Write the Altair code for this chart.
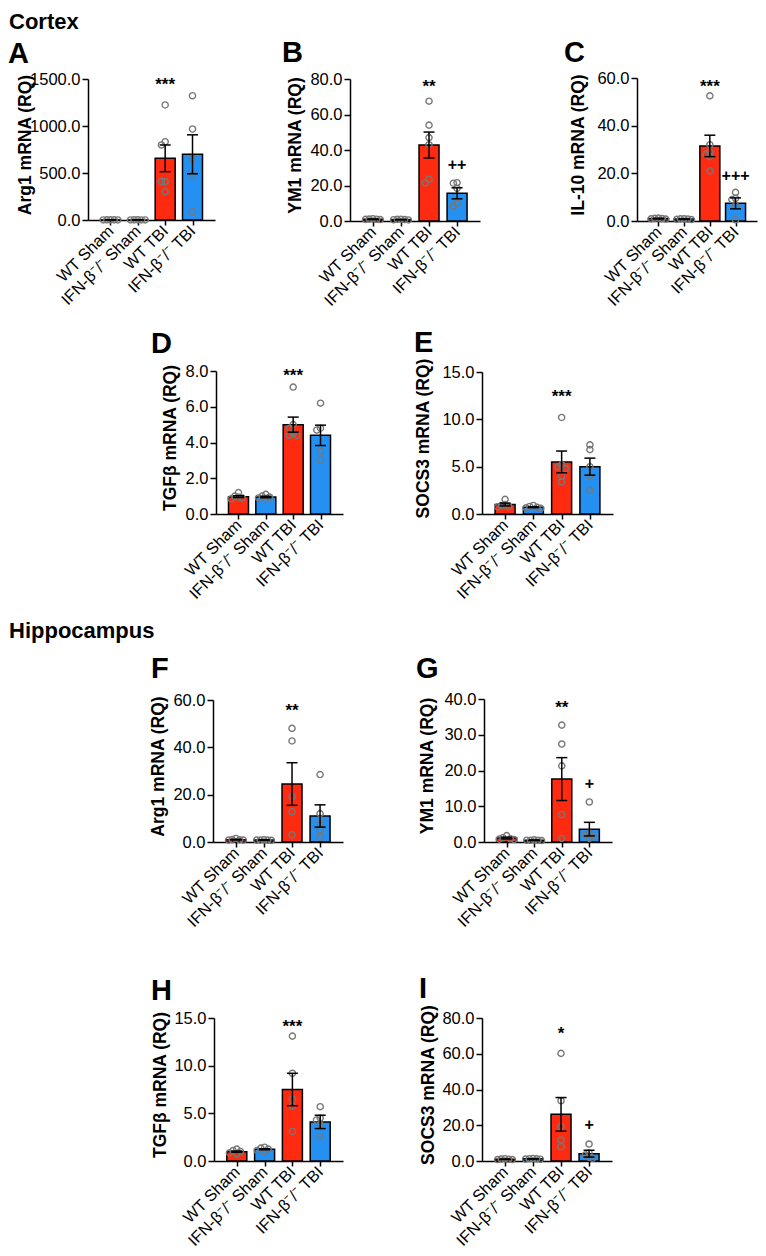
import altair as alt
import pandas as pd

# ---------------- data ----------------
groups = ["WT Sham", "IFN-β⁻/⁻ Sham", "WT TBI", "IFN-β⁻/⁻ TBI"]
genotype = ["WT", "IFN", "WT", "IFN"]

panel_letters = ["A", "B", "C", "D", "E", "F", "G", "H", "I"]
y_titles = ["Arg1 mRNA (RQ)", "YM1 mRNA (RQ)", "IL-10 mRNA (RQ)",
            "TGFβ mRNA (RQ)", "SOCS3 mRNA (RQ)",
            "Arg1 mRNA (RQ)", "YM1 mRNA (RQ)",
            "TGFβ mRNA (RQ)", "SOCS3 mRNA (RQ)"]
y_max = [1500, 80, 60, 8, 15, 60, 40, 15, 80]
y_ticks = [[0, 500, 1000, 1500], [0, 20, 40, 60, 80], [0, 20, 40, 60],
           [0, 2, 4, 6, 8], [0, 5, 10, 15], [0, 20, 40, 60],
           [0, 10, 20, 30, 40], [0, 5, 10, 15], [0, 20, 40, 60, 80]]

# Cortex
A_mean = [1.0, 0.9, 656, 699]
A_sem = [0.1, 0.1, 142, 207]
A_pts = [[1.2, 1.0, 0.9, 0.8, 1.1], [0.9, 1.0, 0.8, 0.9, 1.0],
         [1224, 833, 798, 408, 408, 301], [1322, 968, 656, 479, 88]]
A_sig = [(2, "***", 1490)]

B_mean = [1.0, 0.8, 42.8, 15.6]
B_sem = [0.15, 0.1, 7.3, 3.1]
B_pts = [[1.3, 1.1, 0.9, 0.8, 1.0], [1.0, 0.8, 0.6, 0.7, 0.9],
         [67.5, 54, 47, 43, 21.5, 23.5], [21.6, 21.3, 18.4, 10, 8.4]]
B_sig = [(2, "**", 78.3), (3, "++", 31.5)]

C_mean = [1.0, 0.8, 31.5, 7.4]
C_sem = [0.15, 0.1, 4.5, 2.3]
C_pts = [[1.2, 1.0, 0.9, 0.8, 1.1], [0.9, 0.8, 0.7, 0.9, 0.6],
         [52.5, 32, 29, 28, 27, 21], [12, 9.5, 9, 6.5, 0.5]]
C_sig = [(2, "***", 58.3), (3, "+++", 18.9)]

D_mean = [0.97, 0.95, 5.0, 4.4]
D_sem = [0.05, 0.04, 0.42, 0.57]
D_pts = [[1.2, 1.0, 0.95, 0.9, 0.85], [1.1, 1.0, 0.95, 0.9, 0.85],
         [7.1, 5.0, 4.8, 4.5, 4.4, 4.4], [6.2, 4.8, 4.7, 3.5, 3.0]]
D_sig = [(2, "***", 8.0)]

E_mean = [1.0, 0.72, 5.5, 5.0]
E_sem = [0.15, 0.05, 1.15, 0.9]
E_pts = [[1.55, 1.0, 0.9, 0.8, 0.75], [0.9, 0.8, 0.7, 0.65, 0.6],
         [10.2, 5.2, 5.0, 4.8, 4.0, 3.4], [7.3, 6.8, 5.0, 4.0, 2.5]]
E_sig = [(2, "***", 12.9)]

# Hippocampus
F_mean = [1.0, 0.8, 24.5, 11.0]
F_sem = [0.15, 0.1, 9.0, 4.7]
F_pts = [[1.5, 1.0, 0.9, 0.8, 0.8], [0.9, 0.8, 0.8, 0.7, 0.8],
         [48, 42.7, 19.1, 12.8, 3.0], [28.5, 12, 8, 5, 2]]
F_sig = [(2, "**", 57.5)]

G_mean = [1.1, 0.5, 17.6, 3.6]
G_sem = [0.25, 0.07, 6.0, 1.9]
G_pts = [[1.8, 1.2, 0.9, 0.8, 0.7], [0.6, 0.5, 0.5, 0.4, 0.5],
         [32.7, 27.4, 21.3, 7.7, 1.0], [11.2, 2.5, 2.0, 1.5, 1.0]]
G_sig = [(2, "**", 38.9), (3, "+", 16.2)]

H_mean = [0.98, 1.23, 7.5, 4.1]
H_sem = [0.07, 0.06, 1.7, 0.7]
H_pts = [[1.25, 1.1, 1.0, 0.85, 0.75], [1.45, 1.35, 1.25, 1.1, 1.0],
         [13.1, 9.2, 6.5, 5.8, 3.1], [5.7, 4.5, 4.3, 3.8, 2.6]]
H_sig = [(2, "***", 14.6)]

I_mean = [1.0, 1.2, 26.1, 4.1]
I_sem = [0.1, 0.1, 9.4, 1.9]
I_pts = [[1.3, 1.1, 1.0, 0.8, 0.8], [1.4, 1.3, 1.2, 1.0, 1.1],
         [60.2, 33.7, 19.2, 11.7, 8.0], [9.5, 4.5, 3.4, 2.0, 1.5]]
I_sig = [(2, "*", 73.8), (3, "+", 20.1)]

means = [A_mean, B_mean, C_mean, D_mean, E_mean, F_mean, G_mean, H_mean, I_mean]
sems = [A_sem, B_sem, C_sem, D_sem, E_sem, F_sem, G_sem, H_sem, I_sem]
points = [A_pts, B_pts, C_pts, D_pts, E_pts, F_pts, G_pts, H_pts, I_pts]
sigs = [A_sig, B_sig, C_sig, D_sig, E_sig, F_sig, G_sig, H_sig, I_sig]

# ---------------- layout / style ----------------
FONT = "Liberation Sans"
RED = "#FF2B10"
BLUE = "#2491F2"
GRAY = "#777777"
M = 8                      # page margin
W_VIEW, H_VIEW = 750, 1240

# plot boxes in page pixels: x axis start, x axis end, y top, y zero
boxes = [(88, 215, 79, 220), (350, 480, 79, 221), (637, 757, 78, 221),
         (216, 343, 371, 514), (482, 613, 372, 514),
         (213, 343, 700, 842), (484, 612, 699, 842),
         (214, 343, 1018, 1161), (482, 612, 1018, 1161)]
title_dx = [-57.5, -50, -53.5, -41, -54, -50, -52, -49, -49]
letter_pos = [(2, 63), (284, 62), (566, 62), (153, 353), (416, 352),
              (153, 678), (418, 678), (153, 1000), (421, 998)]

U_LO, U_HI = -0.64, 3.64
label_expr = "[" + ",".join("'" + g + "'" for g in groups) + "][datum.value]"


def swarm(vals, px_per_unit, s=4.0):
    ys = [v * px_per_unit for v in vals]
    order = sorted(range(len(vals)), key=lambda i: -vals[i])
    cands = [0.0]
    for m in range(1, 30):
        cands += [-m * s, m * s]
    placed, offs = [], [0.0] * len(vals)
    for i in order:
        for c in cands:
            if all((c - ox) ** 2 + (ys[i] - oy) ** 2 >= (s - 0.01) ** 2 for ox, oy in placed):
                offs[i] = c
                placed.append((c, ys[i]))
                break
    return offs


def build_panel(k):
    x0, x1, yt, yz = [v - M for v in boxes[k]]
    step = (x1 - x0) / (U_HI - U_LO)
    pxu = (yz - yt) / y_max[k]
    xscale = alt.Scale(domain=[U_LO, U_HI], range=[x0, x1], nice=False, zero=False)
    yscale = alt.Scale(domain=[0, y_max[k]], range=[yz, yt], nice=False, zero=False)
    xaxis = alt.Axis(orient="bottom", offset=yz - H_VIEW, values=[0, 1, 2, 3],
                     labelExpr=label_expr, title=None, labelAngle=-45,
                     labelAlign="right", labelBaseline="middle", labelPadding=3,
                     labelFontSize=16.3,
                     tickSize=5, labelOverlap=False, labelFlush=False,
                     labelBound=False, grid=False)
    yaxis = alt.Axis(orient="left", offset=-x0, values=y_ticks[k], format=".1f",
                     title=y_titles[k], titleX=title_dx[k], titleY=(yt + yz) / 2 - 5,
                     titleAngle=-90, titleBaseline="alphabetic", titleAlign="center",
                     tickSize=6, labelPadding=2, labelOverlap=False,
                     labelFlush=False, labelBound=False, grid=False)

    def X(f):
        return alt.X(f + ":Q", scale=xscale, axis=xaxis)

    def Y(f):
        return alt.Y(f + ":Q", scale=yscale, axis=yaxis)

    mean, sem = means[k], sems[k]
    bdf = pd.DataFrame({"u": [0, 1, 2, 3], "mean": mean, "zero": [0] * 4,
                        "lo": [m - s for m, s in zip(mean, sem)],
                        "hi": [m + s for m, s in zip(mean, sem)],
                        "geno": genotype})
    rows = []
    for g, vals in enumerate(points[k]):
        offs = swarm(vals, pxu)
        for v, o in zip(vals, offs):
            rows.append({"ux": g + o / step, "val": v})
    pdf = pd.DataFrame(rows)
    cdf = pd.DataFrame({"u": [0, 1, 2, 3] * 2, "cap": list(bdf["lo"]) + list(bdf["hi"])})

    bars = alt.Chart(bdf).mark_bar(size=20, stroke="black", strokeWidth=1.5).encode(
        x=X("u"), y=Y("mean"), y2="zero:Q",
        color=alt.Color("geno:N", scale=alt.Scale(domain=["WT", "IFN"], range=[RED, BLUE]),
                        legend=None))
    pts = alt.Chart(pdf).mark_point(filled=False, size=38, strokeWidth=1.4, color=GRAY,
                                    opacity=1).encode(x=X("ux"), y=Y("val"))
    rule = alt.Chart(bdf).mark_rule(color="black", strokeWidth=1.5).encode(
        x=X("u"), y=Y("lo"), y2="hi:Q")
    caps = alt.Chart(cdf).mark_tick(orient="horizontal", size=11, thickness=1.5,
                                    color="black", opacity=1).encode(x=X("u"), y=Y("cap"))
    layers = [bars, pts, rule, caps]
    stars = [s for s in sigs[k] if "*" in s[1]]
    plus = [s for s in sigs[k] if "+" in s[1]]
    if stars:
        sdf = pd.DataFrame({"u": [s[0] for s in stars], "t": [s[1] for s in stars],
                            "sy": [s[2] for s in stars]})
        layers.append(alt.Chart(sdf).mark_text(dy=5, fontSize=17, fontWeight="bold",
                                               font=FONT, color="black").encode(
            x=X("u"), y=Y("sy"), text="t:N"))
    if plus:
        qdf = pd.DataFrame({"u": [s[0] for s in plus], "t": [s[1] for s in plus],
                            "sy": [s[2] for s in plus]})
        layers.append(alt.Chart(qdf).mark_text(dy=0, fontSize=16, fontWeight="bold",
                                               font=FONT, color="black").encode(
            x=X("u"), y=Y("sy"), text="t:N"))
    return alt.layer(*layers)


panels = [build_panel(k) for k in range(9)]

annots = []
for k, L in enumerate(panel_letters):
    lx, ly = letter_pos[k]
    annots.append(alt.Chart(pd.DataFrame({"t": [L]})).mark_text(
        align="left", baseline="alphabetic", fontSize=29, fontWeight="bold",
        font=FONT, color="black").encode(
        text="t:N", x=alt.value(max(0, lx - 2 - M)), y=alt.value(ly - M)))

for txt, by in [("Cortex", 28.5), ("Hippocampus", 638)]:
    annots.append(alt.Chart(pd.DataFrame({"t": [txt]})).mark_text(
        align="left", baseline="alphabetic", fontSize=22, fontWeight="bold",
        font=FONT, color="black").encode(
        text="t:N", x=alt.value(1), y=alt.value(by - M)))

chart = alt.layer(*panels, *annots).resolve_scale(
    x="independent", y="independent", color="shared"
).properties(
    width=W_VIEW, height=H_VIEW,
    autosize=alt.AutoSizeParams(type="none"), padding=0
).configure_view(strokeWidth=0).configure_axis(
    domainColor="black", tickColor="black", labelColor="black", titleColor="black",
    domainWidth=1.5, tickWidth=1.5, labelFont=FONT, titleFont=FONT,
    labelFontSize=16.5, titleFontSize=17.5, titleFontWeight="bold"
)

chart.save("out.html", embed_options={"renderer": "svg", "actions": False})
